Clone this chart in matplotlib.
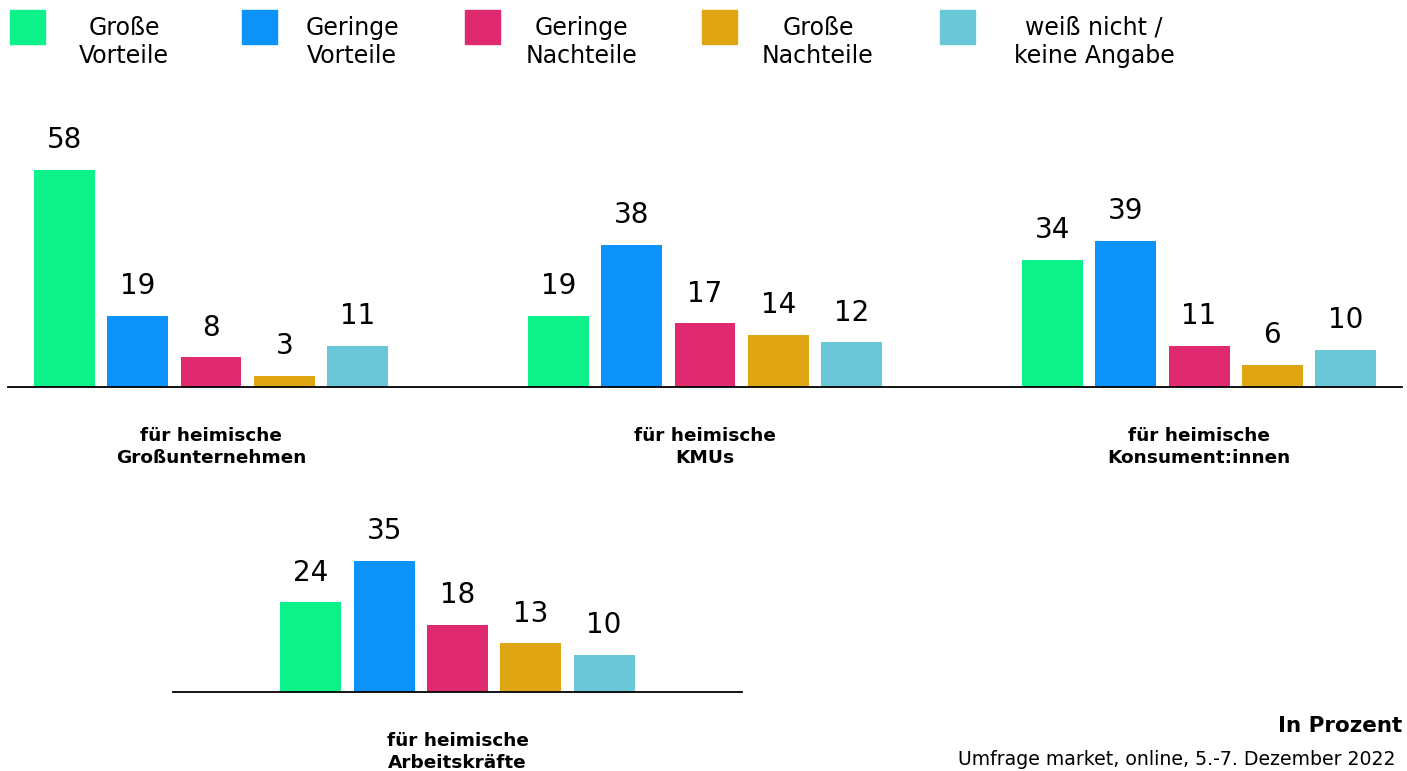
import numpy as np
import matplotlib
matplotlib.use('Agg')
import matplotlib.pyplot as plt
from matplotlib.patches import Rectangle

plt.rcParams['font.family'] = ['DejaVu Sans']

# answer categories (legend) and their colours
answers = ['Große\nVorteile', 'Geringe\nVorteile', 'Geringe\nNachteile',
           'Große\nNachteile', 'weiß nicht /\nkeine Angabe']
colors = ['#0DF18A', '#0C93FA', '#E02A6F', '#E0A513', '#69C7D7']

# groups in the upper row
groups_top = ['für heimische\nGroßunternehmen', 'für heimische\nKMUs',
              'für heimische\nKonsument:innen']
grossunternehmen = [58, 19, 8, 3, 11]
kmus = [19, 38, 17, 14, 12]
konsumenten = [34, 39, 11, 6, 10]

# group in the lower row
group_bottom = 'für heimische\nArbeitskräfte'
arbeitskraefte = [24, 35, 18, 13, 10]

W, H = 1407, 771
fig = plt.figure(figsize=(W / 100, H / 100), dpi=100)

def fx(px):
    return px / W

def fy(py):
    return 1 - py / H

bar_w = 0.83
group_gap = 6.74
scale = 73.3  # pixels per bar step


def draw_group(ax, xc, vals):
    xs = xc + np.arange(len(vals)) - 2
    bars = ax.bar(xs, vals, width=bar_w, color=colors, zorder=2)
    for b, v in zip(bars, vals):
        ax.annotate(str(v), (b.get_x() + b.get_width() / 2, v),
                    xytext=(0, 11), textcoords='offset points',
                    ha='center', va='bottom', fontsize=20)


def style_axis(ax):
    for s in ['top', 'left', 'right']:
        ax.spines[s].set_visible(False)
    ax.spines['bottom'].set_linewidth(1.3)
    ax.spines['bottom'].set_zorder(3)
    ax.set_yticks([])
    ax.tick_params(axis='x', length=0, pad=29)
    for lab in ax.get_xticklabels():
        lab.set_fontsize(13.3)
        lab.set_fontweight('bold')
        lab.set_linespacing(1.3)


# upper row
ax0 = fig.add_axes([fx(8), fy(387), fx(1402) - fx(8), fy(100) - fy(387)])
centers = np.arange(len(groups_top)) * group_gap
for xc, vals in zip(centers, [grossunternehmen, kmus, konsumenten]):
    draw_group(ax0, xc, vals)
ax0.set_xlim((8 - 211) / scale, (1402 - 211) / scale)
ax0.set_ylim(0, 287 / 3.75)
ax0.set_xticks(centers)
ax0.set_xticklabels(groups_top)
style_axis(ax0)

# lower row
ax1 = fig.add_axes([fx(173), fy(692), fx(742) - fx(173), fy(500) - fy(692)])
draw_group(ax1, 0, arbeitskraefte)
half = (742 - 173) / 2 / scale
ax1.set_xlim(-half, half)
ax1.set_ylim(0, 192 / 3.75)
ax1.set_xticks([0])
ax1.set_xticklabels([group_bottom])
style_axis(ax1)

# legend along the top
sq_left = [10, 242, 465, 702, 940]
txt_center = [124, 352, 581, 818, 1094]
for lx, tx, name, c in zip(sq_left, txt_center, answers, colors):
    fig.patches.append(Rectangle((fx(lx), fy(44)), fx(35), fy(10) - fy(44),
                                 transform=fig.transFigure, color=c))
    fig.text(fx(tx), fy(42), name, ha='center', va='center', fontsize=17,
             linespacing=1.25)

fig.text(fx(1402), fy(726), 'In Prozent', ha='right', va='center',
         fontsize=15.5, fontweight='bold')
fig.text(fx(1395), fy(769), 'Umfrage market, online, 5.-7. Dezember 2022',
         ha='right', va='bottom', fontsize=13.6)

fig.savefig('out.png', dpi=100)
